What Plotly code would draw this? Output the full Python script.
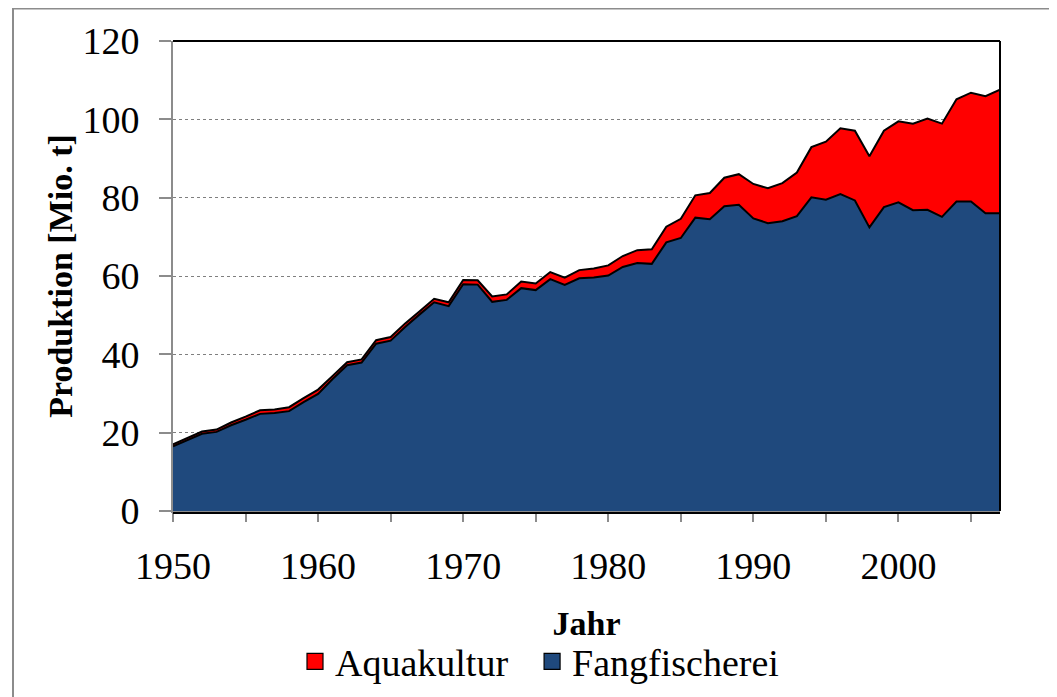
import plotly.graph_objects as go

years = list(range(1950, 2008))

fangfischerei = [
    16.5, 18.2, 19.7, 20.2, 21.9, 23.3, 24.8, 25.0, 25.5, 27.8,
    29.9, 33.7, 37.2, 37.9, 42.7, 43.5, 47.0, 50.2, 53.3, 52.3,
    57.9, 57.8, 53.4, 53.9, 56.9, 56.4, 59.2, 57.7, 59.4, 59.6,
    60.1, 62.3, 63.3, 63.1, 68.6, 69.7, 74.9, 74.5, 77.8, 78.2,
    74.7, 73.5, 74.0, 75.3, 80.1, 79.5, 80.9, 79.3, 72.4, 77.6,
    78.8, 76.8, 76.9, 75.1, 79.0, 79.0, 76.0, 76.0,
]

aquakultur = [
    0.5, 0.5, 0.6, 0.6, 0.7, 0.8, 0.9, 0.9, 1.0, 1.0,
    1.1, 0.8, 0.8, 0.8, 0.9, 0.9, 0.9, 0.8, 0.9, 1.0,
    1.1, 1.1, 1.4, 1.4, 1.7, 1.7, 1.8, 1.9, 2.1, 2.3,
    2.6, 2.8, 3.3, 3.7, 4.0, 4.9, 5.7, 6.7, 7.3, 7.8,
    8.8, 8.9, 9.7, 11.1, 12.8, 14.8, 16.8, 17.8, 18.2, 19.5,
    20.7, 22.1, 23.3, 23.8, 26.1, 27.8, 29.9, 31.6,
]

series_names = ["Fangfischerei", "Aquakultur"]
series_colors = {"Fangfischerei": "#1F497D", "Aquakultur": "#FF0000"}
y_ticks = [0, 20, 40, 60, 80, 100, 120]
x_ticks = [1950, 1960, 1970, 1980, 1990, 2000]

FONT = "Liberation Serif, Times New Roman, serif"
GRAY = "#8C8C8C"
NBSP = "\u00a0"

fig = go.Figure()

data = {"Fangfischerei": fangfischerei, "Aquakultur": aquakultur}
for name in series_names:
    fig.add_trace(go.Scatter(
        x=years, y=data[name], name=name, mode="lines",
        stackgroup="one",
        line=dict(color="black", width=2),
        fillcolor=series_colors[name],
        showlegend=False, hoverinfo="x+y+name",
    ))

# legend entries (square symbols), order as in reference
legend_labels = {"Aquakultur": "Aquakultur" + NBSP * 2, "Fangfischerei": "Fangfischerei"}
for name in ["Aquakultur", "Fangfischerei"]:
    fig.add_trace(go.Scatter(
        x=[None], y=[None], name=legend_labels[name], mode="markers",
        marker=dict(symbol="square", size=17, color=series_colors[name],
                    line=dict(color="black", width=1.2)),
        showlegend=True,
    ))

# the page body adds an 8px offset; work in screen coordinates
OFF = 8
W, H = 1057, 697
PL, PR, PT, PB = 173, 1000, 39, 516   # plot area on screen
L = PL - OFF
T = PT - OFF
R = W - (PR - OFF)
B = H - (PB - OFF)
pw = PR - PL
ph = PB - PT

def px_x(x):
    return (x - PL) / pw

def px_y(y):
    return (PB - y) / ph

fig.update_layout(
    width=W, height=H,
    margin=dict(l=L, r=R, t=T, b=B, pad=0),
    paper_bgcolor="white", plot_bgcolor="white",
    font=dict(family=FONT, color="black", size=38),
    showlegend=True,
    legend=dict(
        orientation="h",
        traceorder="normal",
        x=px_x(295), xanchor="left",
        y=px_y(669), yanchor="middle",
        font=dict(family=FONT, size=38, color="black"),
        bgcolor="rgba(0,0,0,0)",
        itemwidth=30,
        tracegroupgap=0,
    ),
    xaxis=dict(
        range=[1950, 2007],
        tickmode="array", tickvals=x_ticks, ticktext=[str(v) for v in x_ticks],
        ticks="outside", ticklen=9, tickwidth=2, tickcolor=GRAY,
        minor=dict(dtick=5, tick0=1950, ticks="outside", ticklen=9,
                   tickwidth=2, tickcolor=GRAY, showgrid=False),
        showline=True, linecolor=GRAY, linewidth=2,
        showgrid=False, zeroline=False,
        tickfont=dict(family=FONT, size=38, color="black"),
        ticklabelstandoff=11,
        title=dict(text="<b>Jahr</b>", font=dict(family=FONT, size=34, color="black"),
                   standoff=26),
    ),
    yaxis=dict(
        range=[0, 120],
        tickmode="array", tickvals=y_ticks, ticktext=[str(v) for v in y_ticks],
        ticks="outside", ticklen=12, tickwidth=2, tickcolor=GRAY,
        showline=True, linecolor=GRAY, linewidth=2,
        showgrid=True, gridcolor="#7F7F7F", griddash="dot", gridwidth=1,
        zeroline=False,
        tickfont=dict(family=FONT, size=38, color="black"),
        ticklabelstandoff=12,
        title=dict(text="<b>Produktion [Mio. t]</b>",
                   font=dict(family=FONT, size=34, color="black"),
                   standoff=0),
    ),
    shapes=[
        # outer chart frame
        dict(type="rect", xref="paper", yref="paper",
             x0=px_x(13), x1=px_x(1054), y0=px_y(730), y1=px_y(6),
             line=dict(color="#8C8C8C", width=2), fillcolor="rgba(0,0,0,0)",
             layer="below"),
        # plot-area border: top and right in black
        dict(type="line", xref="paper", yref="paper",
             x0=0, x1=1, y0=1, y1=1, line=dict(color="black", width=2), layer="above"),
        dict(type="line", xref="paper", yref="paper",
             x0=1, x1=1, y0=0, y1=1, line=dict(color="black", width=2), layer="above"),
        dict(type="line", xref="paper", yref="paper",
             x0=0, x1=1, y0=px_y(518), y1=px_y(518), line=dict(color="black", width=2),
             layer="above"),
    ],
)

fig.write_html("out.html")
